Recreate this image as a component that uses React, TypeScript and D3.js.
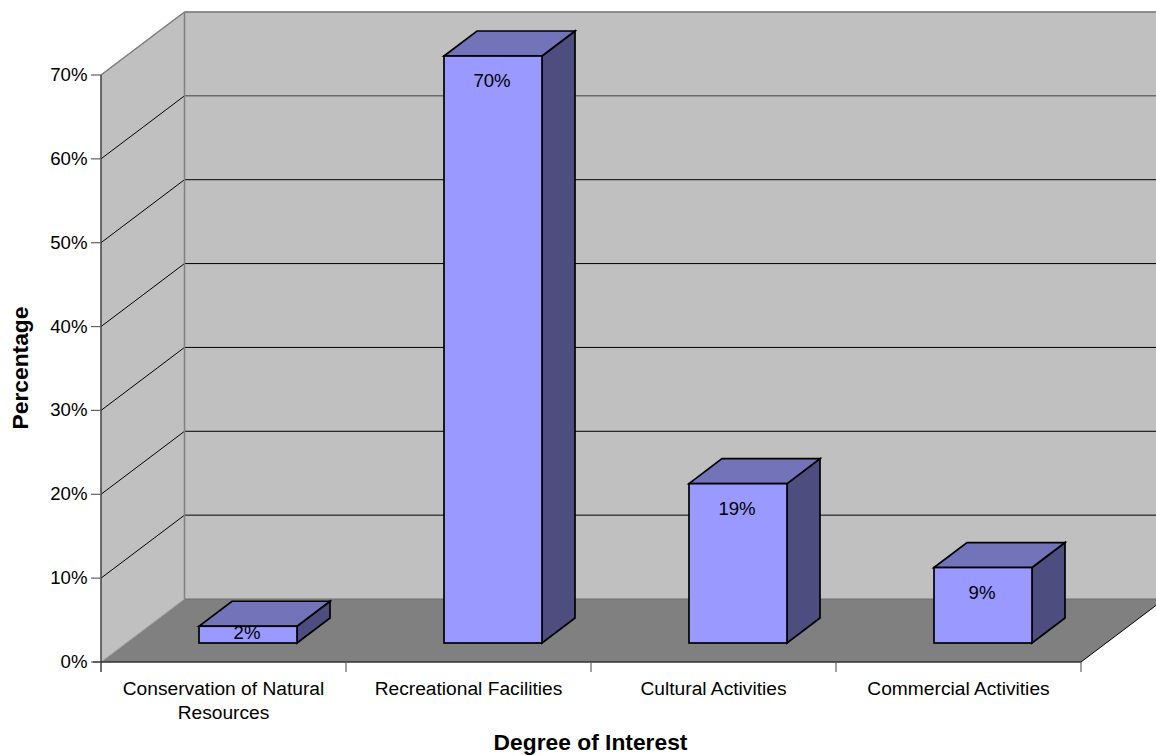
import React from "react";
import * as d3 from "d3";

const categories = ["Conservation of Natural Resources", "Recreational Facilities", "Cultural Activities", "Commercial Activities"];
const categoryLines = [["Conservation of Natural", "Resources"], ["Recreational Facilities"], ["Cultural Activities"], ["Commercial Activities"]];
const values = [2, 70, 19, 9];
const valueTicks = [0, 10, 20, 30, 40, 50, 60, 70];

const FONT = "'Liberation Sans', Arial, sans-serif";
const dx = 83.5, dy = -63;
const bdx = 33, bdy = -25;
const y0 = 662;
const x = d3.scaleBand<string>().domain(categories).range([101, 1081]);
const y = d3.scaleLinear().domain([0, 70]).range([y0, 75]);
const barW = x.bandwidth() * 0.4;
const barInsetX = (x.bandwidth() - barW) / 2 + 24.5;
const barBaseOffset = -19;
const poly = (pts: number[][]) => pts.map(p => p.join(",")).join(" ");

export default function App() {
  const xL = x.range()[0], xR = x.range()[1];
  const yTop = y(70);
  return (
    <svg width={1156} height={756} style={{ position: "absolute", left: 0, top: 0, background: "#fff" }} fontFamily={FONT}>
      <polygon points={poly([[xL, y0], [xL + dx, y0 + dy], [xL + dx, yTop + dy], [xL, yTop]])} fill="#c0c0c0" />
      <polygon points={poly([[xL + dx, y0 + dy], [xR + dx, y0 + dy], [xR + dx, yTop + dy], [xL + dx, yTop + dy]])} fill="#c0c0c0" />
      <polygon points={poly([[xL, y0], [xR, y0], [xR + dx, y0 + dy], [xL + dx, y0 + dy]])} fill="#808080" stroke="none" />
      {valueTicks.slice(1).map(t => (
        <g key={t}>
          <line x1={xL} y1={y(t)} x2={xL + dx} y2={y(t) + dy} stroke={t === 70 ? "#808080" : "#000"} strokeWidth={1} />
          <line x1={xL + dx} y1={y(t) + dy} x2={xR + dx} y2={y(t) + dy} stroke={t === 70 ? "#808080" : t === 60 ? "#404040" : "#000"} strokeWidth={1} />
        </g>
      ))}
      <line x1={xL} y1={yTop} x2={xL + dx} y2={yTop + dy} stroke="#808080" strokeWidth={1.5} />
      <line x1={xL + dx} y1={yTop + dy} x2={xL + dx} y2={y0 + dy} stroke="#808080" strokeWidth={1.5} />
      <line x1={xL + dx} y1={yTop + dy} x2={xR + dx} y2={yTop + dy} stroke="#808080" strokeWidth={1.5} />
      <line x1={xL + dx} y1={y0 + dy} x2={xR + dx} y2={y0 + dy} stroke="#6e6e6e" strokeWidth={1} />
      <line x1={xL} y1={y0} x2={xL + dx} y2={y0 + dy} stroke="#a0a0a0" strokeWidth={1} />
      <line x1={xR} y1={y0} x2={xR + dx} y2={y0 + dy} stroke="#000" strokeWidth={1} />

      {categories.map((c, i) => {
        const left = x(c)! + barInsetX;
        const right = left + barW;
        const bottom = y0 + barBaseOffset;
        const top = y(values[i]) + barBaseOffset;
        return (
          <g key={c} stroke="#000" strokeWidth={1.7} strokeLinejoin="miter">
            <polygon points={poly([[right, top], [right + bdx, top + bdy], [right + bdx, bottom + bdy], [right, bottom]])} fill="#4d4d80" />
            <polygon points={poly([[left, top], [left + bdx, top + bdy], [right + bdx, top + bdy], [right, top]])} fill="#7373ba" />
            <rect x={left} y={top} width={barW} height={bottom - top} fill="#9999ff" />
            <text x={(left + right) / 2 - 1} y={Math.min(top + 31, bottom - 4)} textAnchor="middle" fontSize={18.6} fill="#000" stroke="none">{values[i]}%</text>
          </g>
        );
      })}

      <line x1={xL} y1={yTop} x2={xL} y2={672} stroke="#404040" strokeWidth={1.5} />
      <line x1={93} y1={y0} x2={xR} y2={y0} stroke="#303030" strokeWidth={1.5} />
      {valueTicks.map(t => (
        <g key={t}>
          <line x1={91} y1={y(t)} x2={xL} y2={y(t)} stroke="#606060" strokeWidth={1.2} />
          <text x={87.5} y={y(t) + 6} textAnchor="end" fontSize={18.6} fill="#000">{t}%</text>
        </g>
      ))}
      {categories.map((c, i) => {
        const cx = x(c)! + x.bandwidth() / 2;
        return (
          <g key={c}>
            <line x1={x(c)! + x.bandwidth()} y1={y0} x2={x(c)! + x.bandwidth()} y2={672} stroke="#606060" strokeWidth={1.2} />
            {categoryLines[i].map((l, j) => (
              <text key={l} x={cx} y={695 + j * 23.5} textAnchor="middle" fontSize={19.2} fill="#000">{l}</text>
            ))}
          </g>
        );
      })}
      <text x={590.5} y={750} textAnchor="middle" fontSize={22.8} fontWeight="bold" fill="#000">Degree of Interest</text>
      <text transform="translate(28,368) rotate(-90)" textAnchor="middle" fontSize={22.8} fontWeight="bold" fill="#000">Percentage</text>
    </svg>
  );
}
